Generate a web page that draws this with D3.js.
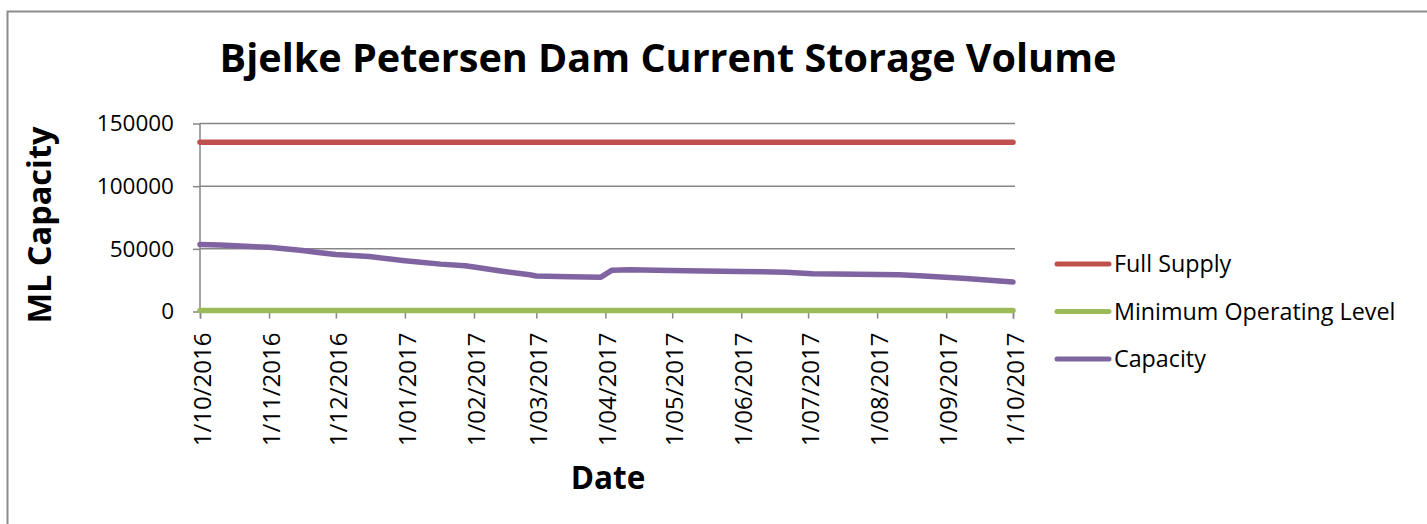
<!DOCTYPE html>
<html>
<head>
    <title>Bjelke Petersen Dam Current Storage Volume</title>
    <script src="https://d3js.org/d3.v7.min.js"></script>
    <style>
        body { margin: 0; background: #fff; }
        svg { display: block; font-family: "Open Sans", sans-serif; }
    </style>
</head>
<body>
    <svg width="1427" height="524"></svg>

    <script>
        // Storage readings (ML)
        const capDates = ["2016-10-01", "2016-10-10", "2016-11-01", "2016-11-15", "2016-11-24", "2016-12-01",
            "2016-12-16", "2017-01-01", "2017-01-17", "2017-01-28", "2017-02-01", "2017-02-13", "2017-02-26",
            "2017-03-01", "2017-03-16", "2017-03-30", "2017-04-04", "2017-04-12", "2017-04-30", "2017-05-31",
            "2017-06-21", "2017-07-03", "2017-08-11", "2017-08-20", "2017-09-10", "2017-10-01"];
        const capValues = [53500, 53000, 51200, 48800, 46800, 45500,
            43800, 40500, 37800, 36500, 35500, 32300, 29300,
            28300, 27700, 27400, 33000, 33400, 32800, 32000,
            31300, 30200, 29400, 28500, 26300, 23500];
        const fullSupply = 135000;
        const minOperating = 800;
        const seriesNames = ["Full Supply", "Minimum Operating Level", "Capacity"];
        const seriesColors = ["#C0504D", "#9BBB59", "#8064A2"];
        const yTicks = [0, 50000, 100000, 150000];
        const monthTicks = ["2016-10-01", "2016-11-01", "2016-12-01", "2017-01-01", "2017-02-01", "2017-03-01",
            "2017-04-01", "2017-05-01", "2017-06-01", "2017-07-01", "2017-08-01", "2017-09-01", "2017-10-01"];

        const parse = d3.timeParse("%Y-%m-%d");
        const fmt = d3.timeFormat("%-d/%m/%Y");
        const capacity = capDates.map((d, i) => ({ date: parse(d), value: capValues[i] }));
        const start = parse(monthTicks[0]);
        const end = parse(monthTicks[monthTicks.length - 1]);

        const svg = d3.select("svg");
        const axisColor = "#868686";

        // outer chart frame
        svg.append("rect")
            .attr("x", 7.5).attr("y", 11.5)
            .attr("width", 1500).attr("height", 600)
            .attr("fill", "none")
            .attr("stroke", "#8c8c8c")
            .attr("stroke-width", 2);

        const x = d3.scaleTime().domain([start, end]).range([200, 1013]);
        const y = d3.scaleLinear().domain([0, 150000]).range([311.5, 123.5]);

        // gridlines
        svg.append("g").selectAll("line")
            .data(yTicks.filter(v => v > 0))
            .join("line")
            .attr("x1", x(start)).attr("x2", x(end) + 2)
            .attr("y1", d => y(d)).attr("y2", d => y(d))
            .attr("stroke", axisColor).attr("stroke-width", 1.5);

        // y axis
        const yAxis = svg.append("g")
            .attr("transform", `translate(${x(start)},0)`)
            .call(d3.axisLeft(y).tickValues(yTicks).tickSize(7).tickPadding(19).tickFormat(d3.format("d")));
        yAxis.selectAll("line, path").attr("stroke", axisColor).attr("stroke-width", 1.5);
        yAxis.select(".domain").attr("d", `M0,${y(0)}V${y(150000)}`);
        yAxis.selectAll("text").attr("font-size", 22.5).attr("fill", "#000").attr("font-family", "Open Sans");

        // x axis
        const xAxis = svg.append("g")
            .attr("transform", `translate(0,${y(0)})`)
            .call(d3.axisBottom(x).tickValues(monthTicks.map(parse)).tickSize(7).tickFormat(fmt));
        xAxis.selectAll("line, path").attr("stroke", axisColor).attr("stroke-width", 1.5);
        xAxis.selectAll("text")
            .attr("font-size", 24).attr("fill", "#000").attr("font-family", "Open Sans")
            .attr("text-anchor", "end")
            .attr("transform", "translate(2,21) rotate(-90)")
            .attr("x", 0).attr("y", 0).attr("dy", "0.35em");

        // series lines
        const line = d3.line().x(d => x(d.date)).y(d => y(d.value));
        const flat = v => [{ date: start, value: v }, { date: end, value: v }];
        const series = [flat(fullSupply), flat(minOperating), capacity];
        svg.append("g").selectAll("path")
            .data(series)
            .join("path")
            .attr("d", line)
            .attr("fill", "none")
            .attr("stroke", (d, i) => seriesColors[i])
            .attr("stroke-width", 5.5)
            .attr("stroke-linecap", "round")
            .attr("stroke-linejoin", "round");

        // title
        svg.append("text")
            .attr("x", 668).attr("y", 72)
            .attr("text-anchor", "middle")
            .attr("font-size", 39.6).attr("font-weight", "bold")
            .text("Bjelke Petersen Dam Current Storage Volume");

        // axis titles
        svg.append("text")
            .attr("transform", "translate(51,225) rotate(-90)")
            .attr("text-anchor", "middle")
            .attr("font-size", 32.5).attr("font-weight", "bold")
            .text("ML Capacity");
        svg.append("text")
            .attr("x", 608).attr("y", 489)
            .attr("text-anchor", "middle")
            .attr("font-size", 31.5).attr("font-weight", "bold")
            .text("Date");

        // legend
        const legend = svg.append("g").selectAll("g")
            .data(seriesNames)
            .join("g")
            .attr("transform", (d, i) => `translate(1057,${264 + i * 47.5})`);
        legend.append("line")
            .attr("x1", 0).attr("x2", 52)
            .attr("stroke", (d, i) => seriesColors[i])
            .attr("stroke-width", 5)
            .attr("stroke-linecap", "round");
        legend.append("text")
            .attr("x", 57).attr("dy", "0.35em")
            .attr("font-size", 23.3)
            .text(d => d);
    </script>
</body>
</html>
